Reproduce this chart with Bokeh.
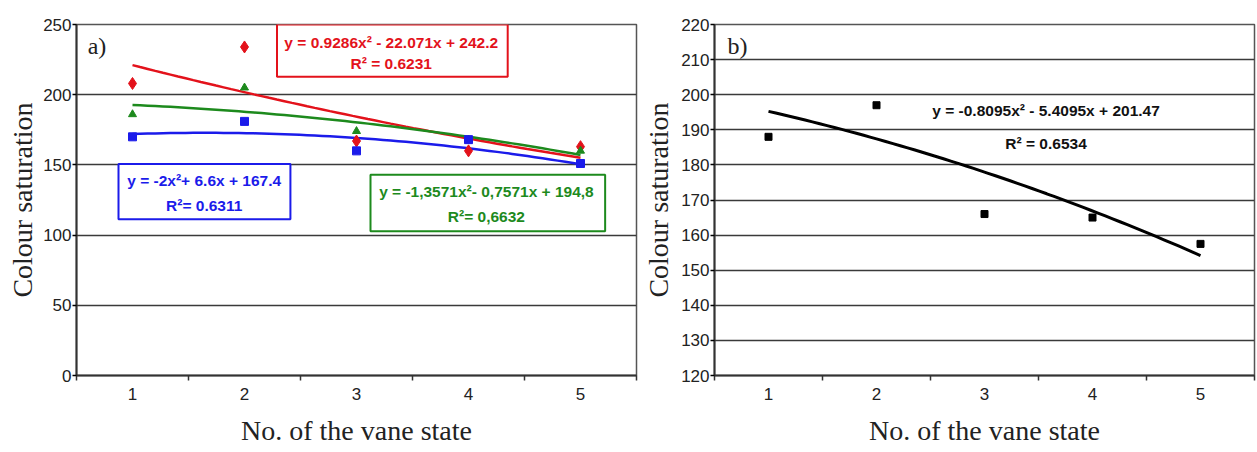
import numpy as np
from bokeh.plotting import figure
from bokeh.layouts import row
from bokeh.models import FixedTicker, Label, Range1d
from bokeh.embed import file_html
from bokeh.resources import INLINE

states = [1, 2, 3, 4, 5]
state_labels = ["1", "2", "3", "4", "5"]

# panel a
red_vals = [208, 234, 167, 160, 163]
green_vals = [186, 205, 174, 168, 160]
blue_vals = [170, 181, 160, 168, 151]
red_fit = [0.9286, -22.071, 242.2]
green_fit = [-1.3571, -0.7571, 194.8]
blue_fit = [-2.0, 6.6, 167.4]
red_eq = ["y = 0.9286x² - 22.071x + 242.2", "R² = 0.6231"]
green_eq = ["y = -1,3571x²- 0,7571x + 194,8", "R²= 0,6632"]
blue_eq = ["y = -2x²+ 6.6x + 167.4", "R²= 0.6311"]
a_yticks = [0, 50, 100, 150, 200, 250]

# panel b
b_vals = [188, 197, 166, 165, 157.5]
b_fit = [-0.8095, -5.4095, 201.47]
b_eq = ["y = -0.8095x² - 5.4095x + 201.47", "R² = 0.6534"]
b_yticks = [120, 130, 140, 150, 160, 170, 180, 190, 200, 210, 220]

RED = "#e3121b"
GREEN = "#1d8a1d"
BLUE = "#1b1bea"
GRID = "#3a3a3a"
SANS = "Liberation Sans"
SERIF = "Liberation Serif"


def style(p, yticks, ylabel_standoff):
    p.background_fill_color = "white"
    p.border_fill_color = "white"
    p.outline_line_color = "#555555"
    p.outline_line_width = 1.5
    p.xgrid.grid_line_color = None
    p.ygrid.ticker = FixedTicker(ticks=yticks)
    p.ygrid.grid_line_color = GRID
    p.ygrid.grid_line_width = 1.6
    p.xaxis.ticker = FixedTicker(ticks=states, minor_ticks=[0.5, 1.5, 2.5, 3.5, 4.5, 5.5])
    p.xaxis.major_label_overrides = {s: l for s, l in zip(states, state_labels)}
    p.xaxis.major_tick_line_color = None
    p.xaxis.major_tick_out = 0
    p.xaxis.minor_tick_out = 5
    p.xaxis.minor_tick_in = 0
    p.xaxis.minor_tick_line_color = "#333333"
    p.xaxis.minor_tick_line_width = 1.5
    p.yaxis.ticker = FixedTicker(ticks=yticks)
    p.yaxis.minor_tick_line_color = None
    p.yaxis.major_tick_out = 4
    p.yaxis.major_tick_in = 0
    p.yaxis.major_tick_line_width = 1.5
    p.yaxis.major_label_standoff = 1
    p.xaxis.major_label_standoff = 7
    for ax in (p.xaxis, p.yaxis):
        ax.axis_line_color = "#333333"
        ax.axis_line_width = 2
        ax.major_label_text_font = SANS
        ax.major_label_text_font_size = "17px"
        ax.major_label_text_color = "#222222"
        ax.axis_label_text_font = SERIF
        ax.axis_label_text_font_style = "normal"
        ax.axis_label_text_font_size = "28px"
        ax.axis_label_text_color = "#222222"
    p.xaxis.axis_label = "No. of the vane state"
    p.yaxis.axis_label = "Colour saturation"
    p.xaxis.axis_label_standoff = 12
    p.yaxis.axis_label_standoff = ylabel_standoff


xs = np.linspace(1, 5, 60)

# ---------- panel a ----------
pa = figure(width=640, height=452, output_backend="svg", toolbar_location=None,
            x_range=Range1d(0.5, 5.5), y_range=Range1d(0, 250),
            min_border_left=76, min_border_right=4, min_border_top=24, min_border_bottom=74)
style(pa, a_yticks, 2)

pa.line(xs, np.polyval(red_fit, xs), line_color=RED, line_width=2.5)
pa.line(xs, np.polyval(green_fit, xs), line_color=GREEN, line_width=2.5)
pa.line(xs, np.polyval(blue_fit, xs), line_color=BLUE, line_width=2.5)
pa.scatter(states, red_vals, marker="diamond", size=12, color=RED)
pa.scatter(states, green_vals, marker="triangle", size=8, color=GREEN)
pa.scatter(states, blue_vals, marker="square", size=8, color=BLUE)

# equation boxes
pa.quad(left=[2.29], right=[4.35], top=[250], bottom=[212.7], fill_color="white",
        line_color=RED, line_width=2)
pa.quad(left=[0.875], right=[2.41], top=[150.7], bottom=[111.3], fill_color="white",
        line_color=BLUE, line_width=2)
pa.quad(left=[3.125], right=[5.22], top=[143], bottom=[102.8], fill_color="white",
        line_color=GREEN, line_width=2)


def eq_labels(p, lines, x, ys, color):
    for t, y in zip(lines, ys):
        p.add_layout(Label(x=x, y=y, text=t, text_align="center", text_baseline="middle",
                           text_font=SANS, text_font_style="bold", text_font_size="15.5px",
                           text_color=color))


eq_labels(pa, red_eq, 3.31, [237.3, 222.5], RED)
eq_labels(pa, blue_eq, 1.64, [138.7, 121.0], BLUE)
eq_labels(pa, green_eq, 4.16, [131.0, 113.4], GREEN)
pa.add_layout(Label(x=0.6, y=235, text="a)", text_baseline="middle", text_font=SERIF,
                    text_font_size="24px", text_color="#222222"))

# ---------- panel b ----------
pb = figure(width=616, height=452, output_backend="svg", toolbar_location=None,
            x_range=Range1d(0.5, 5.5), y_range=Range1d(120, 220),
            min_border_left=74, min_border_right=2, min_border_top=24, min_border_bottom=77)
style(pb, b_yticks, 4)
pb.line(xs, np.polyval(b_fit, xs), line_color="black", line_width=3)
pb.scatter(states, b_vals, marker="square", size=7, color="black")
eq_labels(pb, b_eq, 3.57, [195.5, 186.1], "#111111")
pb.add_layout(Label(x=0.62, y=214, text="b)", text_baseline="middle", text_font=SERIF,
                    text_font_size="24px", text_color="#222222"))

layout = row(pa, pb)
open("out.html", "w").write(file_html(layout, INLINE))
